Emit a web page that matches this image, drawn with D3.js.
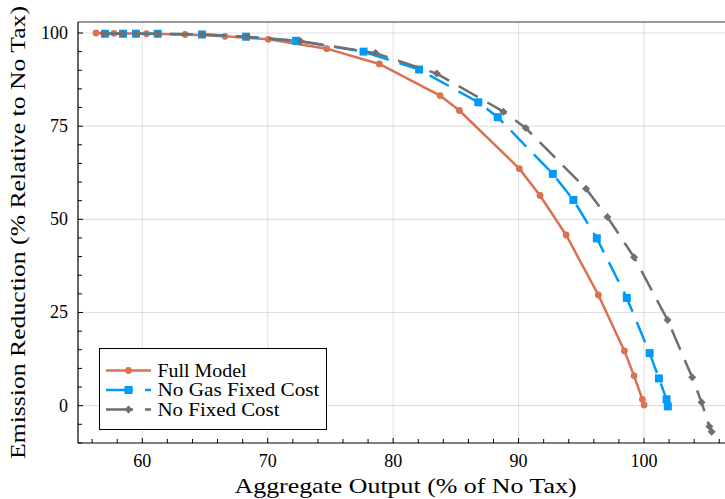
<!DOCTYPE html>
<html>
<head>
<meta charset="utf-8">
<script src="https://cdn.jsdelivr.net/npm/d3@7"></script>
<style>
  html, body { margin: 0; padding: 0; background: #fff; }
  svg { display: block; }
  text { font-family: "Liberation Serif", "DejaVu Serif", serif; fill: #000; }
</style>
</head>
<body>
<svg id="chart" width="725" height="499"></svg>
<script>
// Aggregate output (% of no-tax level) against emission reduction (% relative to no tax)
const fullX = [56.31, 57.74, 60.33, 63.41, 66.59, 70.05, 74.70, 78.90, 83.74, 85.28, 90.06, 91.71, 93.79, 96.36, 98.44, 99.21, 99.87, 100.01];
const fullY = [100.0, 99.9, 99.8, 99.6, 99.1, 98.3, 95.8, 91.7, 83.2, 79.2, 63.6, 56.4, 45.8, 29.7, 14.7, 8.0, 1.7, 0.2];

const noGasX = [57.03, 58.46, 59.50, 61.23, 64.76, 68.27, 72.26, 77.64, 82.07, 86.79, 88.34, 92.73, 94.37, 96.24, 98.63, 100.45, 101.19, 101.80, 101.90];
const noGasY = [99.8, 99.8, 99.8, 99.8, 99.6, 99.0, 97.9, 95.0, 90.2, 81.4, 77.4, 62.2, 55.2, 44.9, 28.9, 14.1, 7.3, 1.7, -0.2];

const noFixedX = [56.91, 58.44, 59.50, 61.23, 64.78, 68.31, 72.62, 78.60, 83.48, 88.79, 90.57, 95.38, 97.08, 99.21, 101.88, 103.84, 104.59, 105.21, 105.39];
const noFixedY = [99.8, 99.8, 99.8, 99.8, 99.6, 99.0, 97.8, 94.6, 89.1, 78.9, 74.5, 58.2, 50.6, 39.85, 23.0, 7.6, 0.9, -5.6, -7.0];

const seriesNames = ["Full Model", "No Gas Fixed Cost", "No Fixed Cost"];
const xTicks = [60, 70, 80, 90, 100];
const yTicks = [0, 25, 50, 75, 100];

const xTitle = "Aggregate Output (% of No Tax)";
const yTitle = "Emission Reduction (% Relative to No Tax)";

const svg = d3.select("#chart");
const pLeft = 78, pRight = 733, pTop = 22, pBottom = 443;

const x = d3.scaleLinear().domain([54.873, 107.096]).range([pLeft, pRight]);
const y = d3.scaleLinear().domain([-10.02, 102.95]).range([pBottom, pTop]);

// grid
const grid = svg.append("g").attr("stroke", "#000").attr("stroke-opacity", 0.12).attr("stroke-width", 1.1);
xTicks.forEach(t => grid.append("line").attr("x1", x(t)).attr("x2", x(t)).attr("y1", pTop).attr("y2", pBottom));
yTicks.forEach(t => grid.append("line").attr("y1", y(t)).attr("y2", y(t)).attr("x1", pLeft).attr("x2", pRight));

// series
const series = [
  { name: seriesNames[0], xs: fullX, ys: fullY, color: "#da7152", dash: null, marker: "circle" },
  { name: seriesNames[1], xs: noGasX, ys: noGasY, color: "#009af9", dash: "22,11", marker: "square" },
  { name: seriesNames[2], xs: noFixedX, ys: noFixedY, color: "#6f6f6f", dash: "22,11", marker: "diamond" }
];

const line = d3.line().x(d => x(d[0])).y(d => y(d[1]));

function drawMarker(g, kind, cx, cy, color) {
  if (kind === "circle") {
    g.append("circle").attr("cx", cx).attr("cy", cy).attr("r", 3.4).attr("fill", color);
  } else if (kind === "square") {
    g.append("rect").attr("x", cx - 4).attr("y", cy - 4).attr("width", 8).attr("height", 8).attr("fill", color);
  } else {
    const r = 4;
    g.append("path").attr("d", `M${cx},${cy - r}L${cx + r},${cy}L${cx},${cy + r}L${cx - r},${cy}Z`).attr("fill", color);
  }
}

const plot = svg.append("g");
series.forEach(s => {
  const pts = s.xs.map((v, i) => [v, s.ys[i]]);
  plot.append("path").attr("d", line(pts)).attr("fill", "none")
    .attr("stroke", s.color).attr("stroke-width", 2.5)
    .attr("stroke-dasharray", s.dash);
  const mg = plot.append("g");
  pts.forEach(p => drawMarker(mg, s.marker, x(p[0]), y(p[1]), s.color));
});

// frame
const frame = svg.append("g").attr("stroke", "#000").attr("stroke-width", 1.2).attr("fill", "none");
frame.append("line").attr("x1", pLeft).attr("x2", pRight).attr("y1", pTop).attr("y2", pTop).attr("stroke", "#333");
frame.append("line").attr("x1", pLeft).attr("x2", pLeft).attr("y1", pTop).attr("y2", pBottom);
frame.append("line").attr("x1", pLeft).attr("x2", pRight).attr("y1", pBottom).attr("y2", pBottom);

// ticks (inward), minor every 2 on x and 5 on y
const xMinor = d3.range(56, 107, 2).filter(v => !xTicks.includes(v));
const yMinor = d3.range(-10, 103, 5).filter(v => !yTicks.includes(v));
const tk = svg.append("g").attr("stroke", "#000").attr("stroke-width", 1);
xTicks.forEach(t => tk.append("line").attr("x1", x(t)).attr("x2", x(t)).attr("y1", pBottom).attr("y2", pBottom - 5));
xMinor.forEach(t => tk.append("line").attr("x1", x(t)).attr("x2", x(t)).attr("y1", pBottom).attr("y2", pBottom - 4));
yTicks.forEach(t => tk.append("line").attr("y1", y(t)).attr("y2", y(t)).attr("x1", pLeft).attr("x2", pLeft + 5));
yMinor.forEach(t => tk.append("line").attr("y1", y(t)).attr("y2", y(t)).attr("x1", pLeft).attr("x2", pLeft + 4));

// tick labels
xTicks.forEach(t => svg.append("text").attr("x", x(t)).attr("y", 467).attr("text-anchor", "middle")
  .attr("font-size", 18).text(t));
yTicks.forEach(t => svg.append("text").attr("x", 68).attr("y", y(t) + 6).attr("text-anchor", "end")
  .attr("font-size", 18).text(t));

// axis titles
svg.append("text").attr("x", (pLeft + pRight) / 2).attr("y", 493).attr("text-anchor", "middle")
  .attr("font-size", 21).attr("textLength", 342).attr("lengthAdjust", "spacingAndGlyphs").text(xTitle);
svg.append("text").attr("transform", `translate(25,${(pTop + pBottom) / 2}) rotate(-90)`)
  .attr("text-anchor", "middle").attr("font-size", 21)
  .attr("textLength", 453).attr("lengthAdjust", "spacingAndGlyphs").text(yTitle);

// legend
const lg = svg.append("g");
lg.append("rect").attr("x", 99.5).attr("y", 348.5).attr("width", 227).attr("height", 81)
  .attr("fill", "#fff").attr("stroke", "#000").attr("stroke-width", 1);
const legendWidths = [89, 162, 122];
series.forEach((s, i) => {
  const cy = 370.5 + i * 19.5;
  lg.append("line").attr("x1", 106).attr("x2", 151).attr("y1", cy).attr("y2", cy)
    .attr("stroke", s.color).attr("stroke-width", 2.5).attr("stroke-dasharray", s.dash ? "27,12" : null);
  drawMarker(lg, s.marker, 128.5, cy, s.color);
  lg.append("text").attr("x", 157.5).attr("y", cy + 6).attr("font-size", 18)
    .attr("textLength", legendWidths[i]).attr("lengthAdjust", "spacingAndGlyphs").text(s.name);
});
</script>
</body>
</html>
